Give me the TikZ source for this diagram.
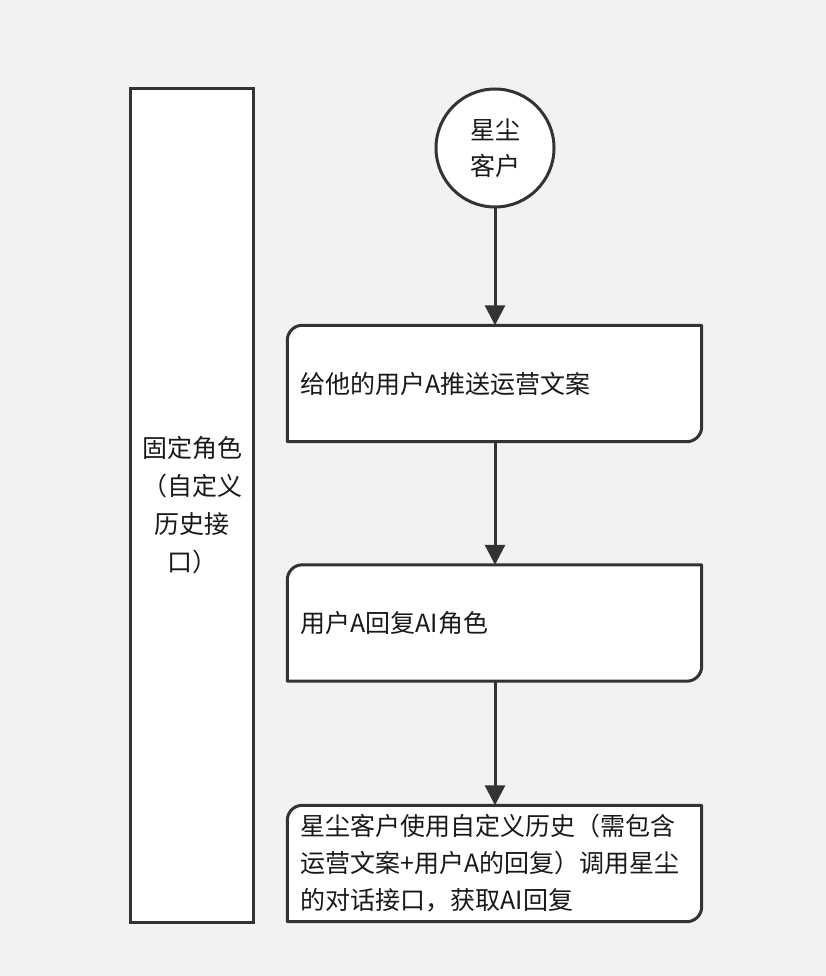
\documentclass[tikz,border=0pt]{standalone}
\usepackage{fontspec}
\setmainfont{Noto Sans CJK SC}
\usetikzlibrary{arrows.meta,backgrounds}
\definecolor{lineC}{HTML}{333333}
\definecolor{bgC}{HTML}{F2F2F2}
\tikzset{
  every node/.style={font=\fontsize{25}{37}\selectfont, text=black!90},
  stepbox/.style={rectangle, minimum width=414pt, minimum height=116pt, inner xsep=13pt, text width=388pt, align=left},
  startnode/.style={circle, draw=lineC, line width=3pt, fill=white, minimum size=118pt, inner sep=0pt, align=center, font=\fontsize{25}{36}\selectfont},
  lanebox/.style={rectangle, draw=lineC, line width=3pt, fill=white, minimum width=123pt, minimum height=834pt, align=center, inner sep=0pt, font=\fontsize{25}{38}\selectfont},
  flow/.style={draw=lineC, line width=3pt, -{Triangle[width=20pt,length=20pt]}},
  shapeline/.style={draw=lineC, line width=3pt, fill=white, line join=round}
}
\newcommand{\onecorner}[1]{%
  \path[shapeline] ([yshift=-15pt]#1.north west) arc[start angle=180, end angle=90, radius=15pt]
    -- (#1.north east) -- ([yshift=15pt]#1.south east) arc[start angle=0, end angle=-90, radius=15pt]
    -- (#1.south west) -- cycle;}
\begin{document}
\begin{tikzpicture}[x=1pt,y=-1pt]
\begin{scope}[on background layer]
\fill[bgC] (0,0) rectangle (826,976);
\end{scope}
\useasboundingbox (0,0) rectangle (826,976);

\node[lanebox] (lane) at (192,505.5) {固定角色\\（自定义\\历史接\\口）};
\node[startnode] (start) at (495,148) {星尘\\客户};
\node[stepbox] (b1) at (494.5,383.5) {给他的用户A推送运营文案};
\node[stepbox] (b2) at (494.5,623) {用户A回复AI角色};
\node[stepbox] (b3) at (494.5,863.5) {星尘客户使用自定义历史（需包含\\运营文案+用户A的回复）调用星尘\\的对话接口，获取AI回复};

\begin{scope}[on background layer]
\onecorner{b1}
\onecorner{b2}
\onecorner{b3}
\end{scope}

\draw[flow] (start.south) -- (start.south |- b1.north);
\draw[flow] (start.south |- b1.south) -- (start.south |- b2.north);
\draw[flow] (start.south |- b2.south) -- (start.south |- b3.north);
\end{tikzpicture}
\end{document}
